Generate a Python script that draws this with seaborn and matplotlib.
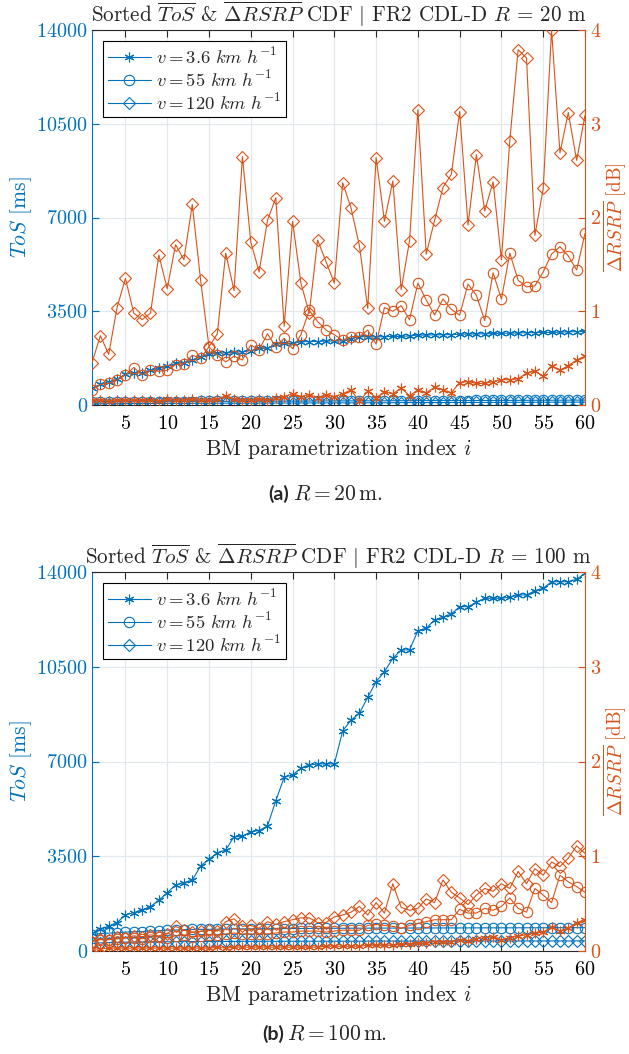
import matplotlib
matplotlib.use("Agg")
import matplotlib.pyplot as plt
import seaborn as sns
from matplotlib.lines import Line2D

# ---------------- data ----------------
idx = list(range(1, 61))
x_ticks = [5, 10, 15, 20, 25, 30, 35, 40, 45, 50, 55, 60]
tos_ticks = [0, 3500, 7000, 10500, 14000]
rsrp_ticks = [0, 1, 2, 3, 4]
speed_labels = [r"$v = 3.6\ km\ h^{-1}$", r"$v = 55\ km\ h^{-1}$", r"$v = 120\ km\ h^{-1}$"]

# Panel (a): R = 20 m
tos_a_36 = [620, 770, 870, 960, 1150, 1200, 1210, 1300, 1390, 1450,
            1550, 1580, 1680, 1800, 1900, 1930, 1950, 1970, 1990, 2030,
            2110, 2120, 2270, 2300, 2300, 2360, 2370, 2370, 2390, 2390,
            2390, 2480, 2550, 2550, 2540, 2550, 2560, 2560, 2580, 2610,
            2610, 2620, 2620, 2630, 2640, 2650, 2650, 2660, 2670, 2680,
            2680, 2690, 2700, 2700, 2710, 2710, 2720, 2730, 2740, 2750]
tos_a_55 = [105, 110, 112, 115, 118, 120, 121, 123, 125, 126,
            128, 129, 130, 132, 133, 135, 136, 137, 139, 140,
            141, 142, 144, 145, 146, 147, 148, 150, 151, 152,
            153, 154, 155, 156, 157, 158, 159, 160, 161, 162,
            163, 164, 165, 166, 167, 168, 169, 170, 171, 172,
            173, 174, 175, 176, 177, 178, 179, 180, 182, 185]
tos_a_120 = [40, 45, 48, 50, 52, 55, 56, 58, 60, 61,
             62, 63, 64, 65, 66, 67, 68, 69, 70, 71,
             72, 73, 74, 75, 76, 77, 78, 79, 80, 81,
             82, 82, 83, 84, 85, 86, 87, 88, 89, 90,
             90, 91, 92, 93, 94, 95, 96, 97, 98, 99,
             100, 101, 102, 103, 104, 105, 106, 107, 108, 110]
rsrp_a_36 = [0.05, 0.05, 0.04, 0.05, 0.05, 0.05, 0.05, 0.05, 0.04, 0.06,
             0.05, 0.05, 0.06, 0.05, 0.05, 0.06, 0.10, 0.06, 0.05, 0.05,
             0.06, 0.05, 0.07, 0.09, 0.12, 0.09, 0.11, 0.08, 0.11, 0.09,
             0.12, 0.16, 0.04, 0.15, 0.08, 0.14, 0.12, 0.18, 0.10, 0.16,
             0.13, 0.19, 0.16, 0.13, 0.24, 0.25, 0.23, 0.23, 0.25, 0.27,
             0.27, 0.28, 0.34, 0.36, 0.31, 0.42, 0.37, 0.42, 0.48, 0.52]
rsrp_a_55 = [0.16, 0.22, 0.23, 0.27, 0.32, 0.40, 0.32, 0.37, 0.36, 0.37,
             0.43, 0.44, 0.53, 0.50, 0.62, 0.53, 0.46, 0.52, 0.48, 0.64,
             0.59, 0.76, 0.62, 0.71, 0.60, 0.75, 1.01, 0.89, 0.80, 0.75,
             0.69, 0.73, 0.73, 0.80, 0.65, 1.04, 1.00, 1.06, 0.91, 1.30,
             1.12, 0.96, 1.13, 1.02, 0.96, 1.29, 1.17, 0.90, 1.41, 1.13,
             1.62, 1.33, 1.26, 1.27, 1.42, 1.61, 1.69, 1.59, 1.44, 1.83]
rsrp_a_120 = [0.45, 0.74, 0.54, 1.04, 1.35, 0.98, 0.91, 0.98, 1.60, 1.24,
              1.71, 1.55, 2.14, 1.33, 0.62, 0.76, 1.62, 1.22, 2.65, 1.74,
              1.42, 1.97, 2.21, 0.84, 1.96, 1.30, 0.98, 1.76, 1.53, 1.30,
              2.37, 2.10, 1.70, 1.03, 2.64, 1.96, 2.39, 1.23, 1.75, 3.15,
              1.61, 1.97, 2.32, 2.46, 3.13, 1.92, 2.67, 2.07, 2.38, 1.55,
              2.82, 3.79, 3.70, 1.81, 2.31, 4.00, 2.69, 3.12, 2.61, 3.09]

# Panel (b): R = 100 m
tos_b_36 = [650, 800, 920, 1050, 1330, 1420, 1520, 1640, 1880, 2150,
            2440, 2520, 2620, 3140, 3390, 3630, 3730, 4220, 4230, 4410,
            4450, 4620, 5550, 6420, 6500, 6750, 6870, 6910, 6910, 6910,
            8130, 8530, 8780, 9370, 9950, 10320, 10810, 11120, 11120, 11830,
            11920, 12230, 12330, 12450, 12720, 12720, 12880, 13030, 13030, 13030,
            13070, 13150, 13150, 13310, 13400, 13640, 13640, 13640, 13730, 13950]
tos_b_55 = [590, 650, 660, 670, 700, 710, 720, 740, 750, 770,
            775, 790, 795, 800, 800, 805, 810, 812, 815, 818,
            820, 822, 825, 828, 830, 832, 834, 836, 838, 840,
            840, 842, 843, 844, 845, 846, 847, 848, 849, 850,
            850, 851, 852, 852, 853, 854, 854, 855, 855, 856,
            856, 857, 858, 858, 859, 860, 860, 861, 862, 862]
tos_b_120 = [280, 300, 310, 320, 325, 330, 335, 338, 340, 342,
             344, 346, 348, 350, 350, 352, 353, 354, 355, 356,
             357, 358, 358, 359, 360, 360, 361, 361, 362, 362,
             363, 363, 364, 364, 365, 365, 365, 366, 366, 366,
             367, 367, 367, 368, 368, 368, 369, 369, 369, 370,
             370, 370, 371, 371, 371, 372, 372, 372, 373, 373]
rsrp_b_36 = [0.02, 0.02, 0.03, 0.03, 0.03, 0.03, 0.03, 0.03, 0.03, 0.03,
             0.03, 0.03, 0.03, 0.03, 0.03, 0.04, 0.03, 0.04, 0.04, 0.04,
             0.04, 0.04, 0.04, 0.04, 0.04, 0.04, 0.04, 0.04, 0.05, 0.05,
             0.05, 0.05, 0.05, 0.06, 0.06, 0.06, 0.06, 0.07, 0.07, 0.08,
             0.08, 0.10, 0.09, 0.10, 0.12, 0.11, 0.13, 0.14, 0.15, 0.12,
             0.14, 0.16, 0.17, 0.19, 0.20, 0.25, 0.21, 0.24, 0.30, 0.33]
rsrp_b_55 = [0.10, 0.12, 0.12, 0.13, 0.14, 0.14, 0.13, 0.15, 0.15, 0.14,
             0.16, 0.17, 0.15, 0.16, 0.17, 0.17, 0.18, 0.19, 0.18, 0.18,
             0.18, 0.18, 0.19, 0.20, 0.20, 0.21, 0.21, 0.21, 0.20, 0.21,
             0.22, 0.22, 0.22, 0.27, 0.28, 0.27, 0.26, 0.24, 0.27, 0.29,
             0.31, 0.33, 0.33, 0.33, 0.44, 0.40, 0.40, 0.45, 0.43, 0.47,
             0.56, 0.45, 0.41, 0.66, 0.59, 0.51, 0.80, 0.73, 0.68, 0.62]
rsrp_b_120 = [0.10, 0.13, 0.12, 0.15, 0.14, 0.16, 0.15, 0.17, 0.16, 0.18,
              0.26, 0.22, 0.20, 0.21, 0.22, 0.21, 0.31, 0.34, 0.26, 0.27,
              0.24, 0.31, 0.28, 0.31, 0.33, 0.35, 0.35, 0.30, 0.30, 0.36,
              0.38, 0.41, 0.47, 0.38, 0.51, 0.40, 0.71, 0.46, 0.43, 0.45,
              0.55, 0.51, 0.75, 0.62, 0.56, 0.49, 0.59, 0.66, 0.63, 0.71,
              0.66, 0.84, 0.71, 0.87, 0.80, 0.94, 0.89, 0.98, 1.11, 1.03]

# ---------------- style ----------------
sns.set_style("ticks")
plt.rcParams.update({
    "font.family": ["serif"],
    "font.serif": ["cmr10"],
    "mathtext.fontset": "cm",
    "axes.formatter.use_mathtext": True,
    "axes.unicode_minus": False,
})
BLUE = "#0072BD"
ORANGE = "#D95319"
DARK = "#262626"
GRID = "#e3e8ee"
MARKERS = [(6, 2, 0), "o", "D"]
MSIZES = [7, 7.5, 6]
TFS = 14.5   # tick labels
LFS = 15.6   # axis labels
TTFS = 15.2  # title
GFS = 13.4   # legend

fig = plt.figure(figsize=(6.29, 10.54), dpi=100)
W, H = 629, 1054


def add_axes(left, top, right, bottom):
    return fig.add_axes([left / W, 1 - bottom / H, (right - left) / W, (bottom - top) / H])


def draw_panel(ax, tos_series, rsrp_series, r_text):
    ax2 = ax.twinx()
    for vals, m, s in zip(tos_series, MARKERS, MSIZES):
        sns.lineplot(x=idx, y=vals, ax=ax, color=BLUE, marker=m, markersize=s,
                     markerfacecolor="none", mec=BLUE, mew=0.8, lw=0.8)
    for vals, m, s in zip(rsrp_series, MARKERS, MSIZES):
        sns.lineplot(x=idx, y=vals, ax=ax2, color=ORANGE, marker=m, markersize=s,
                     markerfacecolor="none", mec=ORANGE, mew=0.8, lw=0.8)

    ax.set_xlim(1, 60)
    ax.set_ylim(0, 14000)
    ax2.set_ylim(0, 4)
    ax.set_xticks(x_ticks)
    ax.set_yticks(tos_ticks)
    ax2.set_yticks(rsrp_ticks)
    ax.grid(True, color=GRID, lw=0.9)
    ax.set_axisbelow(True)

    ax.tick_params(axis="x", direction="in", top=True, length=5, width=0.8,
                   color=DARK, labelcolor="black", labelsize=TFS, pad=7)
    ax.tick_params(axis="y", direction="in", length=5, width=0.8,
                   color=BLUE, labelcolor=BLUE, labelsize=TFS, pad=3)
    ax2.tick_params(axis="y", direction="in", length=5, width=0.8,
                    color=ORANGE, labelcolor=ORANGE, labelsize=TFS, pad=3.5)

    for sp in ["top", "bottom"]:
        ax.spines[sp].set_color(DARK)
        ax.spines[sp].set_linewidth(0.8)
        ax2.spines[sp].set_visible(False)
    ax.spines["left"].set_color(BLUE)
    ax.spines["left"].set_linewidth(0.8)
    ax.spines["right"].set_visible(False)
    ax2.spines["left"].set_visible(False)
    ax2.spines["right"].set_color(ORANGE)
    ax2.spines["right"].set_linewidth(0.8)

    ax.set_title(r"Sorted $\overline{ToS}$ & $\overline{\Delta RSRP}$ CDF $|$ FR2 CDL-D $R$ = "
                 + r_text + " m", fontsize=TTFS, pad=6)
    ax.set_xlabel(r"BM parametrization index $i$", fontsize=LFS, labelpad=3)
    ax.set_ylabel(r"$ToS$ [ms]", color=BLUE, fontsize=LFS, labelpad=2)
    ax2.set_ylabel(r"$\overline{\Delta RSRP}$ [dB]", color=ORANGE, fontsize=13.8, labelpad=0)

    handles = [Line2D([], [], color=BLUE, marker=m, markersize=s, markerfacecolor="none",
                      mec=BLUE, mew=0.8, lw=0.8) for m, s in zip(MARKERS, MSIZES)]
    leg = ax2.legend(handles, speed_labels, loc="upper left", bbox_to_anchor=(0.0, 1.0),
                     fontsize=GFS, frameon=True, fancybox=False, framealpha=1,
                     edgecolor="black", handlelength=2.3, borderaxespad=0.6,
                     labelspacing=0.12, handletextpad=0.3, borderpad=0.25)
    leg.get_frame().set_linewidth(0.8)
    return ax2


ax_a = add_axes(92, 30, 585, 405)
draw_panel(ax_a, [tos_a_36, tos_a_55, tos_a_120], [rsrp_a_36, rsrp_a_55, rsrp_a_120], "20")
ax_b = add_axes(92, 572, 585, 951)
draw_panel(ax_b, [tos_b_36, tos_b_55, tos_b_120], [rsrp_b_36, rsrp_b_55, rsrp_b_120], "100")

# captions
fig.text(279 / W, 1 - 494 / H, "(a)", family="Lato", weight="bold", fontsize=14,
         ha="center", va="center")
fig.text(293 / W, 1 - 494 / H, r"$R = 20\,\mathrm{m}.$", fontsize=15.5, ha="left", va="center")
fig.text(273 / W, 1 - 1034 / H, "(b)", family="Lato", weight="bold", fontsize=14,
         ha="center", va="center")
fig.text(287 / W, 1 - 1034 / H, r"$R = 100\,\mathrm{m}.$", fontsize=15.5, ha="left", va="center")

fig.savefig("out.png", dpi=100)
